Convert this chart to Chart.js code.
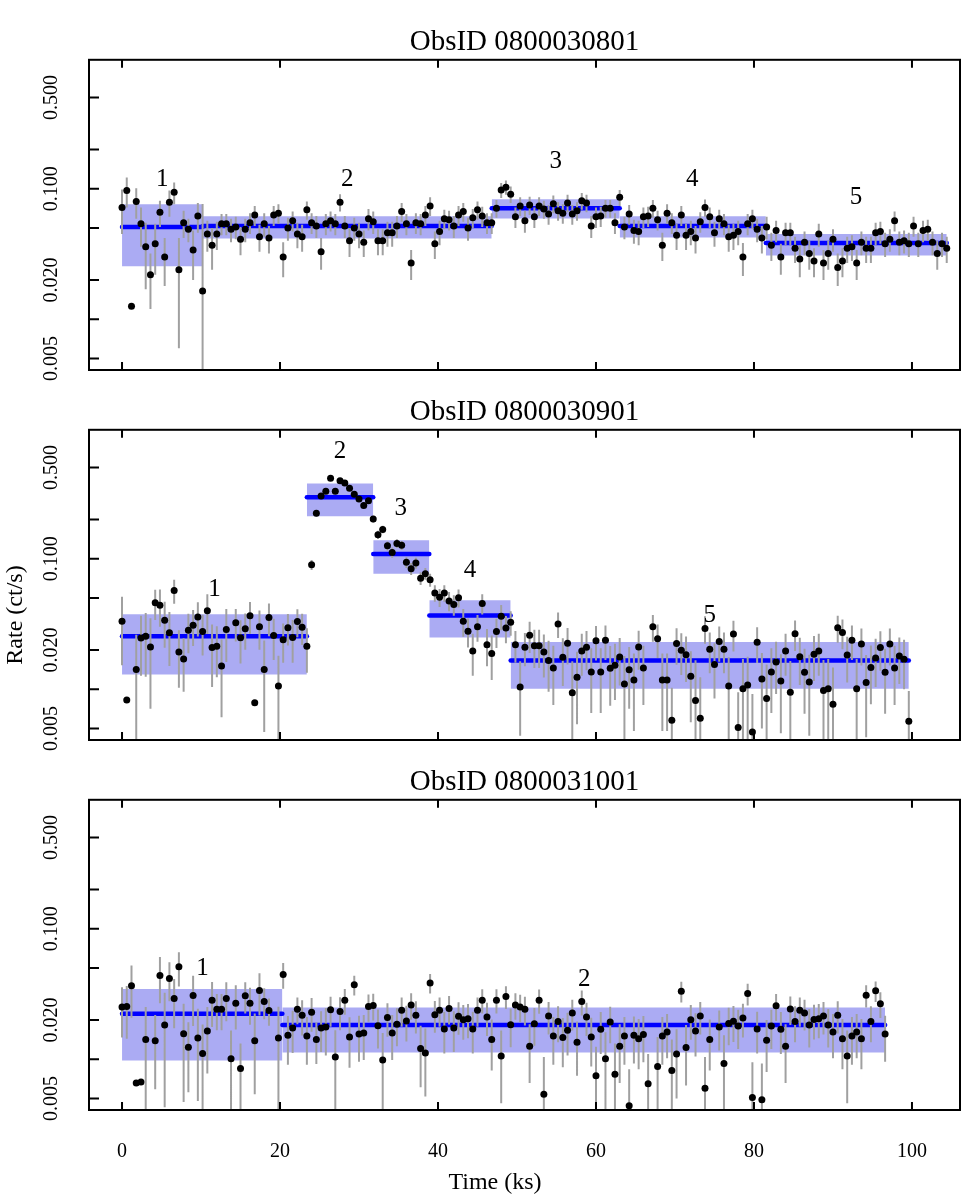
<!DOCTYPE html>
<html>
<head>
<meta charset="utf-8">
<script src="https://cdn.jsdelivr.net/npm/chart.js"></script>
<style>
body { margin: 0; background: #fff; }
#wrap { position: relative; width: 975px; height: 1200px; overflow: hidden; }
canvas { position: absolute; left: 0; }
</style>
</head>
<body>
<div id="wrap">
<canvas id="c1" width="975" height="390" style="top:0px"></canvas>
<canvas id="c2" width="975" height="390" style="top:370px"></canvas>
<canvas id="c3" width="975" height="460" style="top:740px"></canvas>
</div>
<script>
// axis ticks
const xTicks = [0, 20, 40, 60, 80, 100];
const xTickLabels = ['0', '20', '40', '60', '80', '100'];
const yTicks = [0.005, 0.01, 0.02, 0.05, 0.1, 0.2, 0.5];
const yTickLabels = ['0.005', '', '0.020', '', '0.100', '', '0.500'];
const xTitle = 'Time (ks)';
const yTitle = 'Rate (ct/s)';

// light curves: one rate per 0.6 ks bin, starting at 0 ks
const binWidth = 0.6;

// ObsID 0800030801
const title1 = 'ObsID 0800030801';
const rates1 = [
0.072,0.097,0.0126,0.080,0.054,0.036,0.022,0.038,0.066,0.030,
0.079,0.094,0.024,0.055,0.049,0.034,0.062,0.0165,0.045,0.037,
0.045,0.054,0.054,0.049,0.051,0.041,0.049,0.055,0.063,0.043,
0.054,0.042,0.063,0.065,0.030,0.050,0.057,0.045,0.043,0.069,
0.055,0.052,0.033,0.054,0.057,0.054,0.079,0.052,0.040,0.050,
0.045,0.039,0.059,0.056,0.040,0.040,0.046,0.046,0.052,0.067,
0.054,0.027,0.055,0.054,0.063,0.074,0.038,0.047,0.059,0.058,
0.052,0.063,0.067,0.050,0.060,0.069,0.062,0.055,0.055,0.071,
0.098,0.103,0.091,0.061,0.074,0.057,0.075,0.061,0.074,0.070,
0.064,0.077,0.068,0.065,0.078,0.064,0.068,0.081,0.078,0.052,
0.061,0.062,0.071,0.071,0.055,0.086,0.051,0.064,0.048,0.047,
0.061,0.062,0.071,0.058,0.037,0.065,0.055,0.044,0.063,0.044,
0.047,0.042,0.056,0.072,0.061,0.046,0.059,0.054,0.043,0.044,
0.047,0.030,0.054,0.059,0.049,0.042,0.051,0.037,0.048,0.030,
0.046,0.046,0.035,0.029,0.039,0.032,0.028,0.045,0.027,0.032,
0.041,0.025,0.028,0.035,0.036,0.027,0.039,0.035,0.035,0.046,
0.047,0.038,0.041,0.057,0.039,0.040,0.038,0.052,0.038,0.048,
0.049,0.039,0.032,0.038,0.035
];
const errs1 = [
0.027,0.025,0,0.021,0.018,0.019,0.010,0.016,0.015,0.012,
0.018,0.018,0.018,0.013,0.010,0.014,0.016,0.060,0.012,0.013,
0.011,0.010,0.010,0.010,0.010,0.010,0.010,0.010,0.011,0.010,
0.011,0.010,0.011,0.011,0.009,0.010,0.010,0.010,0.010,0.011,
0.010,0.010,0.009,0.010,0.010,0.010,0.012,0.010,0.010,0.010,
0.010,0.009,0.011,0.011,0.009,0.009,0.010,0.010,0.010,0.011,
0.010,0.007,0.010,0.010,0.011,0.012,0.009,0.010,0.010,0.010,
0.010,0.011,0.011,0.010,0.010,0.011,0.011,0.010,0.010,0.011,
0.013,0.013,0.013,0.011,0.012,0.011,0.012,0.011,0.012,0.011,
0.011,0.012,0.011,0.011,0.012,0.011,0.011,0.012,0.012,0.010,
0.011,0.011,0.011,0.011,0.010,0.012,0.010,0.011,0.010,0.010,
0.011,0.011,0.011,0.010,0.009,0.011,0.010,0.010,0.011,0.010,
0.010,0.010,0.010,0.011,0.011,0.010,0.010,0.010,0.010,0.010,
0.010,0.0085,0.010,0.010,0.010,0.010,0.010,0.009,0.009,0.008,
0.009,0.009,0.008,0.008,0.008,0.008,0.007,0.009,0.007,0.008,
0.008,0.007,0.007,0.008,0.008,0.007,0.008,0.008,0.008,0.009,
0.009,0.008,0.008,0.010,0.008,0.008,0.008,0.009,0.008,0.009,
0.009,0.008,0.008,0.008,0.008
];
const segStart1 = [0, 10.2, 46.8, 63.0, 81.5];
const segEnd1 = [10.2, 46.8, 63.0, 81.5, 104.4];
const segRate1 = [0.051, 0.052, 0.071, 0.052, 0.0385];
const segLo1 = [0.0255, 0.0416, 0.0593, 0.0423, 0.0308];
const segHi1 = [0.0761, 0.0617, 0.0833, 0.0617, 0.0450];
const labX1 = [5.1, 28.5, 54.9, 72.2, 92.9];
const labY1 = [0.117, 0.117, 0.161, 0.118, 0.086];

// ObsID 0800030901
const title2 = 'ObsID 0800030901';
const rates2 = [
0.0333,0.0083,null,0.0142,0.0247,0.0255,0.0211,0.046,0.0441,0.0338,
0.0271,0.0572,0.0193,0.0171,0.0284,0.031,0.0359,0.0277,0.040,0.0209,
0.0214,0.0151,0.0287,null,0.0323,0.0248,0.0291,0.0367,0.0079,0.0301,
0.0142,0.0355,0.0258,0.0106,0.024,0.0297,0.025,0.0331,0.0299,0.0214,
0.090,0.223,0.303,0.33,0.415,0.33,0.397,0.381,0.347,0.312,
0.287,0.256,0.278,0.202,0.153,0.168,0.126,0.112,0.131,0.127,
0.094,0.084,0.093,0.071,0.077,0.069,0.0548,0.0508,0.0548,0.0476,
0.0446,0.0503,0.0333,0.0279,0.0197,0.0301,0.0454,0.022,0.0188,0.0277,
0.0363,0.0295,0.0327,0.022,0.0104,0.021,0.026,0.0216,0.0216,0.0193,
0.0166,0.0146,0.0317,0.0176,0.0225,0.0094,0.0124,0.0197,0.021,0.0136,
0.0236,0.0136,0.0238,0.0145,0.0153,0.0177,0.011,0.0141,0.0118,0.0211,
0.0146,null,0.0301,0.0244,0.0118,0.0118,0.0058,0.0224,0.0199,0.0184,
0.0126,0.0082,0.006,0.0293,0.0203,0.0155,0.0233,0.0203,0.0106,0.0265,
0.0051,0.0101,0.0108,0.0047,0.0229,0.012,0.0085,0.0136,0.0162,0.0116,
0.0197,0.0095,0.0267,0.0178,0.0135,0.0114,0.0186,0.0197,0.0098,0.0101,
0.0077,0.0297,0.0273,0.0183,0.0238,0.0101,0.0222,0.0113,0.0147,0.0174,
0.0209,0.0135,0.0222,0.0146,0.018,0.017,0.0057
];
const errs2 = [
0.018,0,0,0.012,0.012,0.013,0.014,0.012,0.014,0.013,
0.012,0.012,0.009,0.0075,0.0095,0.0095,0.0105,0.0095,0.0135,0.0105,
0.009,0.009,0.0125,0,0.009,0.009,0.009,0.010,0,0.010,
0.0095,0.010,0.009,0.0075,0.008,0.008,0.009,0.008,0.008,0.008,
0.008,0.012,0.014,0.015,0.016,0.015,0.016,0.015,0.015,0.014,
0.014,0.013,0.014,0.012,0.011,0.011,0.010,0.010,0.010,0.010,
0.009,0.009,0.009,0.008,0.008,0.008,0.008,0.008,0.008,0.008,
0.008,0.008,0.008,0.007,0.007,0.007,0.008,0.007,0.007,0.007,
0.008,0.007,0.007,0.006,0.006,0.006,0.007,0.007,0.007,0.007,
0.007,0.007,0.007,0.007,0.007,0.007,0.007,0.007,0.007,0.007,
0.007,0.007,0.007,0.007,0.007,0.007,0.007,0.007,0.007,0.007,
0.007,0,0.007,0.007,0.007,0.007,0.0045,0.007,0.007,0.007,
0.007,0.0085,0.0064,0.007,0.007,0.007,0.007,0.007,0.007,0.007,
0.0044,0.007,0.007,0.0045,0.007,0.007,0.007,0.007,0.007,0.007,
0.007,0.007,0.007,0.007,0.007,0.007,0.007,0.007,0.007,0.007,
0.007,0.007,0.007,0.007,0.007,0.007,0.007,0.007,0.007,0.007,
0.007,0.007,0.007,0.007,0.007,0.007,0.004
];
const segStart2 = [0, 23.4, 31.8, 38.9, 49.2];
const segEnd2 = [23.4, 31.8, 38.9, 49.2, 99.6];
const segRate2 = [0.0255, 0.296, 0.109, 0.0368, 0.0166];
const segLo2 = [0.0130, 0.212, 0.077, 0.0249, 0.0101];
const segHi2 = [0.0376, 0.377, 0.139, 0.0482, 0.0230];
const labX2 = [11.7, 27.6, 35.3, 44.05, 74.4];
const labY2 = [0.058, 0.66, 0.244, 0.082, 0.037];

// ObsID 0800031001
const title3 = 'ObsID 0800031001';
const rates3 = [
0.0252,0.0254,0.0366,0.0066,0.0067,0.0142,null,0.0139,0.0439,0.0183,
0.0417,0.0293,0.0511,0.0157,0.0124,0.0308,0.0146,0.0111,0.0165,0.0284,
0.0242,0.0242,0.0293,0.0101,0.0269,0.0085,0.0307,0.0269,0.0139,0.0337,
0.0277,0.0237,null,0.0146,0.0447,0.0153,0.0174,0.0242,0.0218,0.0151,
0.0229,0.0142,0.0174,0.0177,0.024,0.0104,0.0233,0.0283,0.0148,0.0372,
0.0156,0.0159,0.0254,0.0258,0.0181,0.0099,0.0209,0.0159,0.0186,0.0238,
0.0197,0.0261,0.0218,0.0121,0.0112,0.0385,0.022,0.0238,0.0171,0.0245,
0.0174,0.0214,0.0201,0.0205,0.0171,0.0238,0.0284,0.0211,0.0142,0.0284,
0.0106,0.0303,0.0184,0.0261,0.0252,0.0242,0.0126,0.0187,0.0283,0.0054,
0.0215,0.0151,0.0195,0.0147,0.0167,0.0226,0.0135,0.0277,0.0211,0.0148,
0.0075,0.017,0.0101,0.0193,0.0077,0.0126,0.0151,0.0044,0.0153,0.0144,
0.0155,0.0065,null,0.0088,0.0151,0.0162,0.0082,0.011,0.0333,0.0123,
0.0201,0.0165,0.0215,0.006,0.0142,null,0.0177,0.0093,0.0188,0.0196,
0.018,0.0207,0.0319,0.0051,0.0171,0.0049,0.014,0.018,0.0257,0.017,
0.0126,0.0243,0.0195,0.0238,0.0226,0.0183,0.0202,0.0205,0.0215,0.0183,
0.0162,0.0218,0.0144,0.0106,0.0151,0.0162,0.0144,0.031,0.0195,0.0335,
0.0267,0.0156
];
const errs3 = [
0.0105,0.011,0.0158,0,0,0.011,0,0.008,0.017,0.014,
0.0138,0.012,0.015,0.011,0.0068,0.0128,0.0098,0.0074,0.0087,0.0107,
0.0075,0.0075,0.0097,0.0065,0.010,0.0047,0.0083,0.0085,0.0085,0.012,
0.0074,0.0056,0,0.0107,0.010,0.0062,0.0062,0.0056,0.0066,0.006,
0.0066,0.005,0.006,0.007,0.0062,0.0063,0.0066,0.0063,0.0062,0.0064,
0.006,0.006,0.006,0.006,0.006,0.006,0.006,0.006,0.006,0.006,
0.006,0.006,0.006,0.006,0.006,0.0065,0.006,0.006,0.006,0.006,
0.006,0.006,0.006,0.006,0.006,0.006,0.006,0.006,0.006,0.006,
0.006,0.006,0.006,0.006,0.006,0.006,0.006,0.006,0.006,0.005,
0.006,0.006,0.006,0.006,0.006,0.006,0.006,0.006,0.006,0.006,
0.005,0.006,0.006,0.006,0.0055,0.006,0.006,0.004,0.006,0.006,
0.006,0.0045,0,0.006,0.006,0.006,0.006,0.006,0.006,0.006,
0.006,0.006,0.006,0.0044,0.006,0,0.006,0.006,0.006,0.006,
0.006,0.006,0.006,0.0044,0.006,0.0044,0.006,0.006,0.006,0.006,
0.006,0.006,0.006,0.006,0.006,0.006,0.006,0.006,0.006,0.006,
0.006,0.006,0.006,0.006,0.006,0.006,0.006,0.006,0.006,0.006,
0.006,0.006
];
const segStart3 = [0, 20.3];
const segEnd3 = [20.3, 96.6];
const segRate3 = [0.0223, 0.0183];
const segLo3 = [0.0098, 0.0113];
const segHi3 = [0.0346, 0.0249];
const labX3 = [10.2, 58.5];
const labY3 = [0.050, 0.041];

const FONT = "'Liberation Serif', 'Times New Roman', serif";
const RECT = 'rgba(0, 0, 220, 0.33)';
Chart.defaults.font.family = FONT;
Chart.defaults.color = '#000';

// draws one light curve panel
function drawPanel(id, p) {
  let datasets = [];

  // shaded block range
  p.segStart.forEach((s, i) => {
    datasets.push({
      data: [{x: s, y: p.segHi[i]}, {x: p.segEnd[i], y: p.segHi[i]}],
      borderColor: 'rgba(0,0,0,0)', borderWidth: 0, pointRadius: 0,
      fill: {target: {value: p.segLo[i]}, above: RECT, below: RECT},
      backgroundColor: RECT, order: 4, clip: 0
    });
  });

  // block mean rate
  p.segStart.forEach((s, i) => {
    datasets.push({
      data: [{x: s, y: p.segRate[i]}, {x: p.segEnd[i], y: p.segRate[i]}],
      borderColor: '#0000ff', borderWidth: 4.5, borderCapStyle: 'round',
      pointRadius: 0, fill: false, order: 3, clip: 0
    });
  });

  // error bars and points
  let bars = [];
  let pts = [];
  p.rates.forEach((r, i) => {
    if (r === null) return;
    let t = i * binWidth;
    pts.push({x: t, y: r});
    let e = p.errs[i];
    if (e > 0) {
      bars.push({x: t, y: Math.max(r - e, 1e-4)}, {x: t, y: r + e}, {x: t, y: null});
    }
  });
  datasets.push({
    data: bars, borderColor: '#a0a0a0', borderWidth: 2, borderCapStyle: 'butt',
    pointRadius: 0, spanGaps: false, fill: false, order: 2, clip: 0
  });
  datasets.push({
    data: pts, showLine: false, pointRadius: 3.5, pointBackgroundColor: '#000',
    pointBorderWidth: 0, order: 1, clip: 0
  });

  new Chart(document.getElementById(id), {
    type: 'line',
    data: {datasets: datasets},
    options: {
      responsive: false,
      animation: false,
      events: [],
      layout: {padding: {left: 0, right: 15, top: 0, bottom: p.showX ? 0 : 20}},
      plugins: {
        legend: {display: false},
        tooltip: {enabled: false},
        title: {
          display: true, text: p.title, fullSize: false, color: '#000',
          font: {size: 29, weight: 'normal'}, padding: {top: 25, bottom: 0}
        }
      },
      scales: {
        x: {
          type: 'linear', min: -4.18, max: 106.08, bounds: 'data', display: p.showX,
          afterBuildTicks: s => { s.ticks = xTicks.map(v => ({value: v})); },
          afterFit: s => { s.height = p.showX ? 90 : 0; s.paddingLeft = 0; s.paddingRight = 0; },
          ticks: {
            font: {size: 20}, padding: 29.5, autoSkip: false, maxRotation: 0,
            callback: v => xTickLabels[xTicks.indexOf(v)]
          },
          grid: {display: false, drawTicks: false},
          border: {display: false}
        },
        y: {
          type: 'logarithmic', min: 0.00409, max: 0.974, bounds: 'data',
          afterBuildTicks: s => { s.ticks = yTicks.map(v => ({value: v})); },
          afterFit: s => { s.width = 89; s.paddingTop = 0; s.paddingBottom = 0; },
          ticks: {
            font: {size: 20}, minRotation: 90, maxRotation: 90, crossAlign: 'center',
            padding: 15, autoSkip: false,
            callback: v => yTickLabels[yTicks.indexOf(v)]
          },
          grid: {display: false, drawTicks: false},
          border: {display: false}
        }
      }
    },
    plugins: [{
      id: 'rbox',
      afterDatasetsDraw(chart) {
        let ctx = chart.ctx;
        let a = chart.chartArea;
        let x = chart.scales.x;
        let y = chart.scales.y;
        ctx.save();
        ctx.strokeStyle = '#000';
        ctx.lineWidth = 2;
        ctx.strokeRect(a.left, a.top, a.right - a.left, a.bottom - a.top);
        // inward tick marks
        ctx.beginPath();
        xTicks.forEach(v => {
          let px = x.getPixelForValue(v);
          ctx.moveTo(px, a.bottom); ctx.lineTo(px, a.bottom - 8);
          ctx.moveTo(px, a.top); ctx.lineTo(px, a.top + 8);
        });
        yTicks.forEach(v => {
          let py = y.getPixelForValue(v);
          ctx.moveTo(a.left, py); ctx.lineTo(a.left + 10, py);
        });
        ctx.stroke();
        // block numbers
        ctx.fillStyle = '#000';
        ctx.font = '25px ' + FONT;
        ctx.textAlign = 'center';
        ctx.textBaseline = 'middle';
        p.labX.forEach((lx, i) => {
          ctx.fillText(String(i + 1), x.getPixelForValue(lx), y.getPixelForValue(p.labY[i]));
        });
        ctx.restore();
      },
      afterDraw(chart) {
        let ctx = chart.ctx;
        ctx.save();
        ctx.fillStyle = '#000';
        ctx.font = '24px ' + FONT;
        ctx.textAlign = 'center';
        ctx.textBaseline = 'middle';
        if (p.yTitle) {
          ctx.translate(16, 245);
          ctx.rotate(-Math.PI / 2);
          ctx.fillText(yTitle, 0, 0);
        }
        if (p.showX) {
          ctx.fillText(xTitle, 495, 443);
        }
        ctx.restore();
      }
    }]
  });
}

drawPanel('c1', {title: title1, rates: rates1, errs: errs1, segStart: segStart1, segEnd: segEnd1,
  segRate: segRate1, segLo: segLo1, segHi: segHi1, labX: labX1, labY: labY1, showX: false, yTitle: false});
drawPanel('c2', {title: title2, rates: rates2, errs: errs2, segStart: segStart2, segEnd: segEnd2,
  segRate: segRate2, segLo: segLo2, segHi: segHi2, labX: labX2, labY: labY2, showX: false, yTitle: true});
drawPanel('c3', {title: title3, rates: rates3, errs: errs3, segStart: segStart3, segEnd: segEnd3,
  segRate: segRate3, segLo: segLo3, segHi: segHi3, labX: labX3, labY: labY3, showX: true, yTitle: false});
</script>
</body>
</html>
